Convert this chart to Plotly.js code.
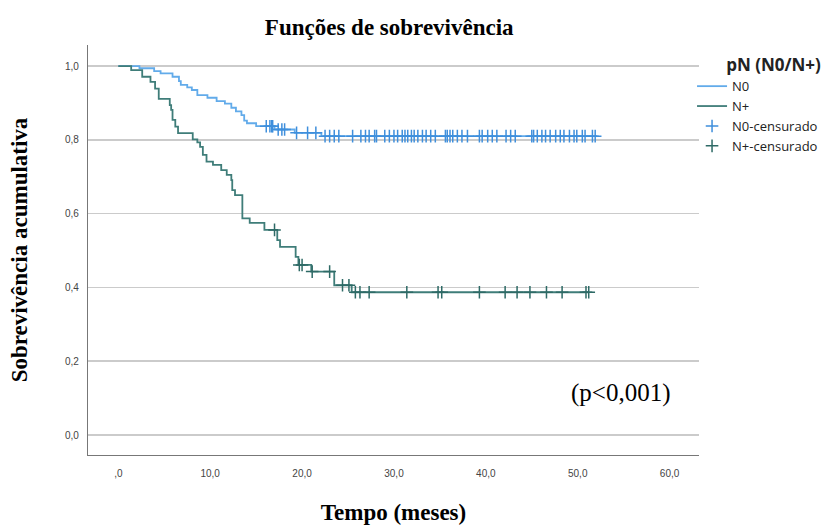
<!DOCTYPE html>
<html>
<head>
<meta charset="utf-8">
<script src="https://cdn.plot.ly/plotly-3.0.1.min.js"></script>
<style>html,body{margin:0;padding:0;background:#fff;}#chart{width:834px;height:525px;}</style>
</head>
<body>
<div id="chart"></div>
<script>
// N0 group: event times (months) and cumulative survival after each event
const n0Times = [0, 2.3, 3.9, 4.6, 5.9, 6.6, 6.8, 7.5, 8.0, 8.6, 9.7, 10.7, 11.6, 12.3, 12.8, 13.4, 13.7, 14.0, 15.0, 17.0, 19.2, 22.1];
const n0Surv  = [1.0, 0.994, 0.986, 0.980, 0.971, 0.959, 0.949, 0.942, 0.935, 0.921, 0.914, 0.905, 0.898, 0.887, 0.877, 0.867, 0.852, 0.845, 0.837, 0.828, 0.819, 0.810];
const n0Censored = [16.1, 16.5, 16.7, 16.8, 17.4, 17.8, 18.1, 19.4, 20.6, 21.5, 22.5, 23.0, 23.5, 24.0, 25.5, 26.4, 26.9, 27.3, 27.9, 28.1, 29.0, 29.5, 30.0, 30.4, 30.9, 31.2, 31.5, 31.9, 32.2, 32.6, 33.1, 33.5, 34.0, 34.5, 35.6, 35.8, 36.1, 36.4, 36.9, 37.4, 38.0, 39.3, 39.6, 40.2, 40.7, 41.2, 42.2, 42.7, 43.2, 45.0, 45.2, 45.6, 46.1, 46.5, 47.0, 47.6, 48.1, 48.5, 49.1, 49.6, 49.9, 50.5, 50.8, 51.6, 51.9];
const n0End = 52.1;

// N+ group
const npTimes = [0, 1.4, 2.6, 3.5, 4.0, 4.4, 5.6, 5.75, 5.9, 6.2, 6.5, 8.1, 8.6, 8.9, 9.2, 9.6, 10.3, 11.2, 11.8, 12.3, 12.4, 12.7, 13.5, 14.3, 15.9, 17.3, 17.6, 19.3, 19.6, 21.0, 23.5, 25.4];
const npSurv  = [1.0, 0.989, 0.971, 0.957, 0.939, 0.911, 0.894, 0.881, 0.854, 0.836, 0.818, 0.801, 0.793, 0.781, 0.759, 0.741, 0.732, 0.718, 0.705, 0.691, 0.664, 0.650, 0.587, 0.575, 0.556, 0.528, 0.510, 0.483, 0.461, 0.443, 0.406, 0.387];
const npCensored = [17.0, 19.7, 20.0, 21.1, 23.0, 24.4, 25.1, 25.8, 26.3, 27.3, 31.4, 34.8, 35.2, 39.3, 42.1, 43.4, 44.8, 46.6, 48.3, 50.9, 51.2];
const npEnd = 51.2;

const xTickVals = [0, 10, 20, 30, 40, 50, 60];
const xTickText = [',0', '10,0', '20,0', '30,0', '40,0', '50,0', '60,0'];
const yTickVals = [0, 0.2, 0.4, 0.6, 0.8, 1.0];
const yTickText = ['0,0', '0,2', '0,4', '0,6', '0,8', '1,0'];

function survAt(times, surv, t) {
  let s = surv[0];
  for (let i = 0; i < times.length; i++) { if (times[i] <= t) s = surv[i]; }
  return s;
}

const blue = '#62abea', blueC = '#3f8fdc';
const green = '#3f7d79', greenC = '#2e6a66';
const serif = 'Liberation Serif, Times New Roman, serif';

const traces = [
  {x: n0Times.concat([n0End]), y: n0Surv.concat([n0Surv[n0Surv.length-1]]), mode: 'lines', line: {shape: 'hv', color: blue, width: 1.8}, name: 'N0'},
  {x: npTimes.concat([npEnd]), y: npSurv.concat([npSurv[npSurv.length-1]]), mode: 'lines', line: {shape: 'hv', color: green, width: 1.8}, name: 'N+'},
  {x: n0Censored, y: n0Censored.map(t => survAt(n0Times, n0Surv, t)), mode: 'markers', marker: {symbol: 'cross-thin-open', size: 9, line: {color: blueC, width: 1.5}, color: blueC}, name: 'N0-censurado'},
  {x: npCensored, y: npCensored.map(t => survAt(npTimes, npSurv, t)), mode: 'markers', marker: {symbol: 'cross-thin-open', size: 9, line: {color: greenC, width: 1.5}, color: greenC}, name: 'N+-censurado'}
];

const layout = {
  width: 834, height: 525,
  paper_bgcolor: '#fff', plot_bgcolor: '#fff',
  margin: {l: 88, r: 134, t: 45, b: 70},
  font: {family: 'Liberation Sans, Arial, sans-serif', color: '#333'},
  title: {text: 'Funções de sobrevivência', x: 0.493, xref: 'paper', xanchor: 'center', y: 0.948, yref: 'container', yanchor: 'middle',
          font: {family: serif, size: 23, color: '#000', weight: 700}},
  xaxis: {range: [-3.3, 63.2], tickvals: xTickVals, ticktext: xTickText, showgrid: false, zeroline: false,
          showline: true, linecolor: '#777', linewidth: 1.2, ticks: '', ticklabelstandoff: 9,
          tickfont: {size: 10, color: '#444'},
          title: {text: 'Tempo (meses)', standoff: 25, font: {family: serif, size: 23, color: '#000', weight: 700}}},
  yaxis: {range: [-0.054, 1.057], tickvals: yTickVals, ticktext: yTickText, showgrid: true, gridcolor: '#cbcbcb', gridwidth: 1.6,
          zeroline: false, showline: true, linecolor: '#777', linewidth: 1.2, ticks: '', ticklabelstandoff: 6,
          tickfont: {size: 10, color: '#444'},
          title: {text: 'Sobrevivência acumulativa', standoff: 30, font: {family: serif, size: 23, color: '#000', weight: 700}}},
  legend: {x: 0.987, xanchor: 'left', y: 0.99, yanchor: 'top', bgcolor: 'rgba(0,0,0,0)',
           font: {family: 'Open Sans, Liberation Sans, sans-serif', size: 13, color: '#222'}, tracegroupgap: 0,
           title: {text: 'pN (N0/N+)', side: 'top right', font: {family: 'Open Sans, Liberation Sans, sans-serif', size: 17, color: '#222', weight: 700}}},
  showlegend: true,
  annotations: [{text: '(p<0,001)', xref: 'paper', yref: 'paper', x: 0.873, y: 0.151, xanchor: 'center', yanchor: 'middle', showarrow: false,
                 font: {family: serif, size: 25, color: '#000'}}]
};

Plotly.newPlot('chart', traces, layout, {displayModeBar: false, staticPlot: true});
</script>
</body>
</html>
